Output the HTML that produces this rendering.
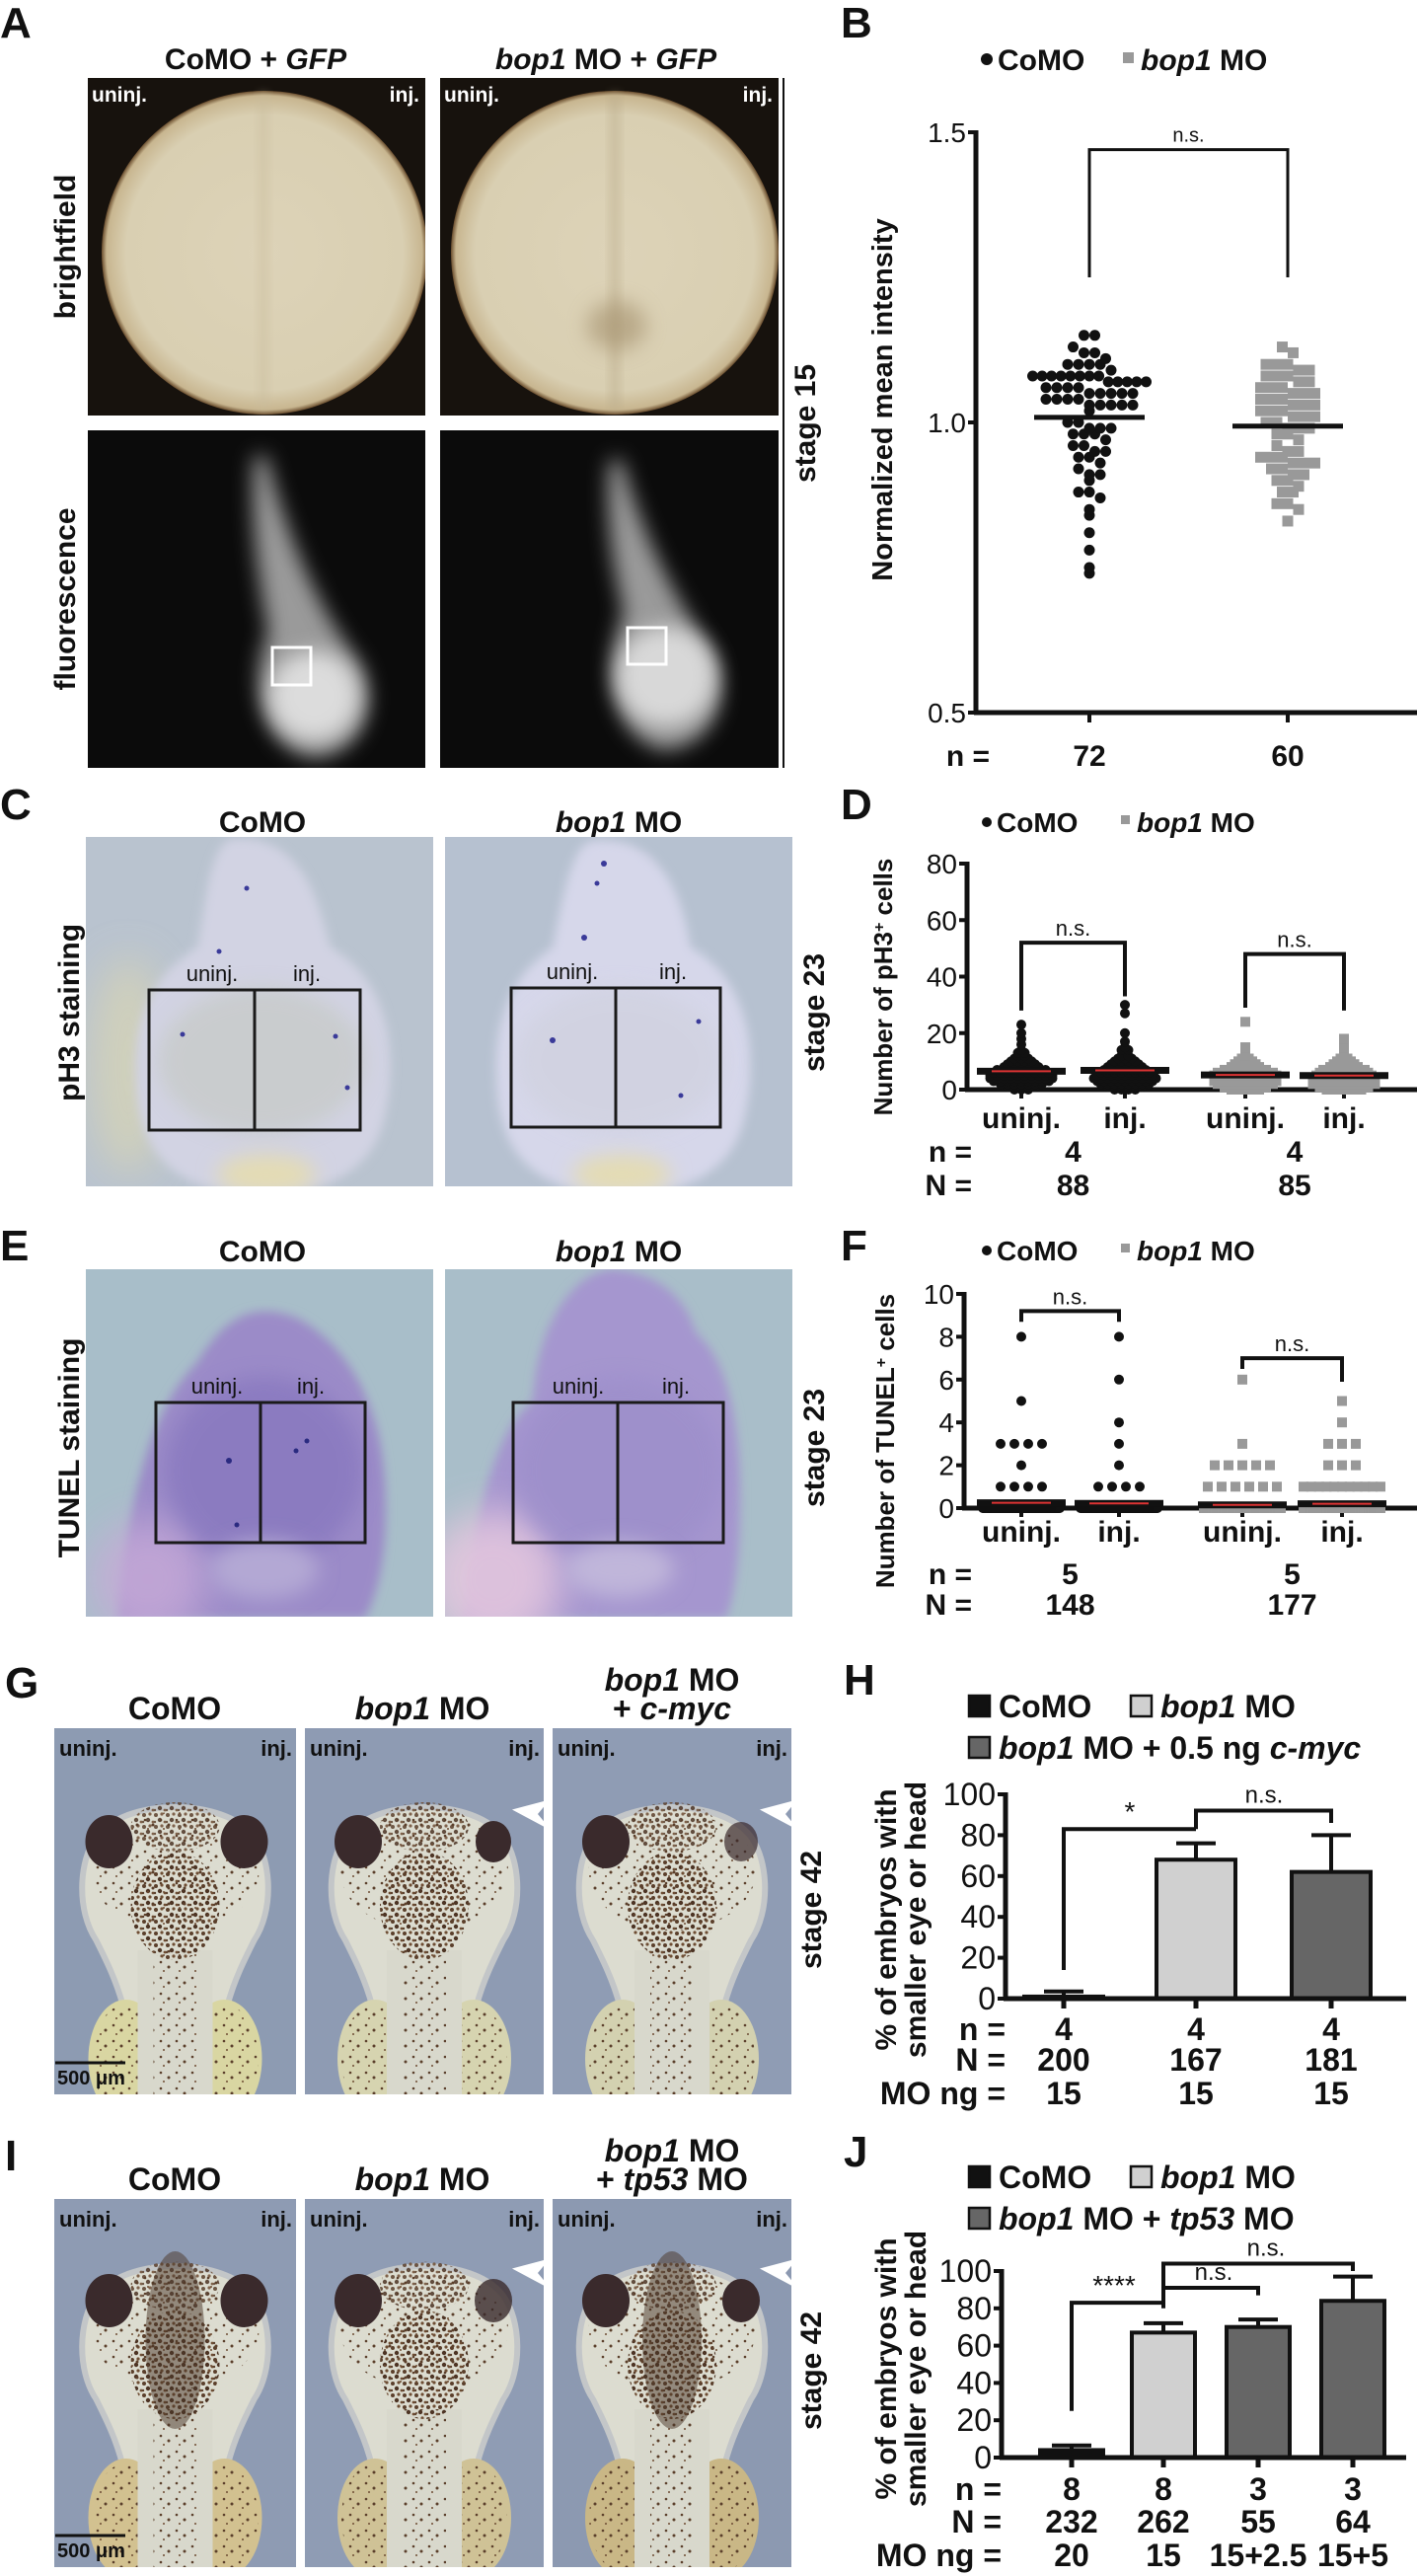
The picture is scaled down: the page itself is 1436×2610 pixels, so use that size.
<!DOCTYPE html>
<html><head><meta charset="utf-8"><title>bop1 figure</title>
<style>
html,body{margin:0;padding:0;background:#fff;}
svg{display:block;}
text{font-family:"Liberation Sans",sans-serif;fill:#111;}
.cond{font-family:"Liberation Sans Narrow","Liberation Sans",sans-serif;}
.b{font-weight:bold;}
</style></head>
<body>
<svg id="fig" xmlns="http://www.w3.org/2000/svg" width="1436" height="2610" viewBox="0 0 1436 2610">
<defs>
<radialGradient id="bfg" cx="50%" cy="50%" r="50%">
<stop offset="0" stop-color="#ddd3b8"/><stop offset="0.85" stop-color="#d9cfb2"/><stop offset="0.97" stop-color="#c8b690"/><stop offset="1" stop-color="#6b4e2e"/>
</radialGradient>
<filter id="bl10" x="-50%" y="-50%" width="200%" height="200%"><feGaussianBlur stdDeviation="10"/></filter>
<filter id="bl5" x="-50%" y="-50%" width="200%" height="200%"><feGaussianBlur stdDeviation="5"/></filter>
<filter id="bl20" x="-50%" y="-50%" width="200%" height="200%"><feGaussianBlur stdDeviation="20"/></filter>
<pattern id="speck" width="12" height="12" patternUnits="userSpaceOnUse">
<circle cx="2" cy="3" r="2" fill="#5b3f2b"/><circle cx="8" cy="2" r="1.6" fill="#6e4d33"/><circle cx="6" cy="8" r="2.2" fill="#4d3424"/><circle cx="11" cy="10" r="1.4" fill="#6e4d33"/><circle cx="1" cy="10" r="1.2" fill="#5b3f2b"/>
</pattern>
<pattern id="speck2" width="16" height="16" patternUnits="userSpaceOnUse">
<circle cx="3" cy="4" r="1.3" fill="#5b3f2b"/><circle cx="11" cy="9" r="1.5" fill="#5b3f2b"/><circle cx="6" cy="13" r="1" fill="#6e4d33"/>
</pattern>
<clipPath id="cA1"><rect x="89" y="79" width="342" height="342"/></clipPath>
<clipPath id="cA2"><rect x="446" y="79" width="343" height="342"/></clipPath>
<clipPath id="cA3"><rect x="89" y="436" width="342" height="342"/></clipPath>
<clipPath id="cA4"><rect x="446" y="436" width="343" height="342"/></clipPath>
<clipPath id="cC1"><rect x="87" y="848" width="352" height="354"/></clipPath>
<clipPath id="cC2"><rect x="451" y="848" width="352" height="354"/></clipPath>
<clipPath id="cE1"><rect x="87" y="1286" width="352" height="352"/></clipPath>
<clipPath id="cE2"><rect x="451" y="1286" width="352" height="352"/></clipPath>
<clipPath id="cG1"><rect x="55" y="1751" width="245" height="371"/></clipPath>
<clipPath id="cG2"><rect x="309" y="1751" width="242" height="371"/></clipPath>
<clipPath id="cG3"><rect x="560" y="1751" width="242" height="371"/></clipPath>
<clipPath id="cI1"><rect x="55" y="2228" width="245" height="373"/></clipPath>
<clipPath id="cI2"><rect x="309" y="2228" width="242" height="373"/></clipPath>
<clipPath id="cI3"><rect x="560" y="2228" width="242" height="373"/></clipPath>
</defs>

<!-- ============ PANEL A ============ -->
<g>
<text x="0" y="38" font-size="44" class="cond b">A</text>
<text x="259" y="70" font-size="30" class="cond b" text-anchor="middle">CoMO + <tspan font-style="italic">GFP</tspan></text>
<text x="614" y="70" font-size="30" class="cond b" text-anchor="middle"><tspan font-style="italic">bop1</tspan> MO + <tspan font-style="italic">GFP</tspan></text>
<g clip-path="url(#cA1)">
<rect x="89" y="79" width="342" height="342" fill="#17120d"/>
<ellipse cx="268" cy="256" rx="165" ry="164" fill="url(#bfg)"/>
<rect x="262" y="95" width="10" height="320" fill="#c9bc9c" opacity="0.5" filter="url(#bl5)"/>
</g>
<g clip-path="url(#cA2)">
<rect x="446" y="79" width="343" height="342" fill="#17120d"/>
<ellipse cx="623" cy="256" rx="166" ry="164" fill="url(#bfg)"/>
<rect x="618" y="95" width="10" height="320" fill="#b8a988" opacity="0.5" filter="url(#bl5)"/>
<ellipse cx="625" cy="330" rx="30" ry="25" fill="#a38f6c" opacity="0.6" filter="url(#bl10)"/>
</g>
<g clip-path="url(#cA3)">
<rect x="89" y="436" width="342" height="342" fill="#0b0b0b"/>
<path d="M258 462 C252 520 262 590 272 640 C248 700 270 760 318 768 C368 765 388 710 362 668 C325 620 292 550 270 462 Z" fill="#9a9a9a" filter="url(#bl10)"/>
<ellipse cx="318" cy="705" rx="45" ry="45" fill="#dcdcdc" filter="url(#bl10)"/>
<rect x="276" y="656" width="39" height="38" fill="none" stroke="#fff" stroke-width="3"/>
</g>
<g clip-path="url(#cA4)">
<rect x="446" y="436" width="343" height="342" fill="#0b0b0b"/>
<path d="M618 466 C612 520 622 580 632 620 C605 690 628 750 672 760 C725 758 745 700 718 655 C680 600 650 540 630 466 Z" fill="#9a9a9a" filter="url(#bl10)"/>
<ellipse cx="675" cy="685" rx="50" ry="50" fill="#d8d8d8" filter="url(#bl10)"/>
<rect x="636" y="636" width="39" height="37" fill="none" stroke="#fff" stroke-width="3"/>
</g>
<text x="93" y="103" font-size="21" class="cond b" fill="#fff" style="fill:#fff">uninj.</text>
<text x="425" y="103" font-size="21" class="cond b" text-anchor="end" style="fill:#fff">inj.</text>
<text x="450" y="103" font-size="21" class="cond b" style="fill:#fff">uninj.</text>
<text x="783" y="103" font-size="21" class="cond b" text-anchor="end" style="fill:#fff">inj.</text>
<line x1="794" y1="79" x2="794" y2="778" stroke="#111" stroke-width="2"/>
<text transform="translate(76,250) rotate(-90)" font-size="30" class="b" text-anchor="middle">brightfield</text>
<text transform="translate(76,607) rotate(-90)" font-size="30" class="b" text-anchor="middle">fluorescence</text>
<text transform="translate(826,429) rotate(-90)" font-size="30" class="b" text-anchor="middle">stage 15</text>
</g>

<!-- ============ PANEL C ============ -->
<g>
<text x="0" y="830" font-size="44" class="cond b">C</text>
<text x="266" y="843" font-size="30" class="cond b" text-anchor="middle">CoMO</text>
<text x="627" y="843" font-size="30" class="cond b" text-anchor="middle"><tspan font-style="italic">bop1</tspan> MO</text>
<g clip-path="url(#cC1)">
<rect x="87" y="848" width="352" height="354" fill="#b9c3cf"/>
<ellipse cx="130" cy="1080" rx="40" ry="110" fill="#d9d5b4" opacity="0.7" filter="url(#bl20)"/>
<path d="M235 850 C300 845 320 900 335 960 C390 990 405 1060 390 1130 C380 1180 340 1210 265 1210 C190 1210 150 1180 140 1120 C130 1040 150 990 200 960 C210 900 215 855 235 850 Z" fill="#d2d3e3" filter="url(#bl5)"/>
<ellipse cx="265" cy="1075" rx="105" ry="75" fill="#c7cbc9" opacity="0.8" filter="url(#bl10)"/>
<ellipse cx="270" cy="1190" rx="50" ry="20" fill="#e4dcb4" filter="url(#bl10)"/>
<circle cx="222" cy="964" r="2.5" fill="#3a3a99"/><circle cx="250" cy="900" r="2.5" fill="#3a3a99"/><circle cx="185" cy="1048" r="2.5" fill="#3a3a99"/><circle cx="340" cy="1050" r="2.5" fill="#3a3a99"/><circle cx="352" cy="1102" r="2.5" fill="#3a3a99"/>
</g>
<g clip-path="url(#cC2)">
<rect x="451" y="848" width="352" height="354" fill="#b6c1d0"/>
<path d="M600 852 C665 845 690 900 700 960 C755 990 770 1060 755 1130 C745 1180 705 1210 630 1210 C555 1210 515 1180 505 1120 C495 1040 515 990 560 960 C572 900 580 856 600 852 Z" fill="#d6d7ea" filter="url(#bl5)"/>
<ellipse cx="628" cy="1075" rx="105" ry="75" fill="#d0d2e0" opacity="0.8" filter="url(#bl10)"/>
<ellipse cx="630" cy="1190" rx="50" ry="20" fill="#e4dcb4" filter="url(#bl10)"/>
<circle cx="612" cy="875" r="3" fill="#3a3a99"/><circle cx="605" cy="895" r="2.5" fill="#3a3a99"/><circle cx="592" cy="950" r="3" fill="#3a3a99"/><circle cx="560" cy="1054" r="3" fill="#3a3a99"/><circle cx="708" cy="1035" r="2.5" fill="#3a3a99"/><circle cx="690" cy="1110" r="2.5" fill="#3a3a99"/>
</g>
<g fill="none" stroke="#1a1a1a" stroke-width="3">
<rect x="151" y="1003" width="214" height="142"/><line x1="258" y1="1003" x2="258" y2="1145"/>
<rect x="518" y="1001" width="212" height="141"/><line x1="624" y1="1001" x2="624" y2="1142"/>
</g>
<text x="215" y="994" font-size="22" class="cond" text-anchor="middle">uninj.</text>
<text x="311" y="994" font-size="22" class="cond" text-anchor="middle">inj.</text>
<text x="580" y="992" font-size="22" class="cond" text-anchor="middle">uninj.</text>
<text x="682" y="992" font-size="22" class="cond" text-anchor="middle">inj.</text>
<text transform="translate(80,1026) rotate(-90)" font-size="30" class="b" text-anchor="middle">pH3 staining</text>
<text transform="translate(835,1026) rotate(-90)" font-size="30" class="b" text-anchor="middle">stage 23</text>
</g>

<!-- ============ PANEL E ============ -->
<g>
<text x="0" y="1277" font-size="44" class="cond b">E</text>
<text x="266" y="1278" font-size="30" class="cond b" text-anchor="middle">CoMO</text>
<text x="627" y="1278" font-size="30" class="cond b" text-anchor="middle"><tspan font-style="italic">bop1</tspan> MO</text>
<g clip-path="url(#cE1)">
<rect x="87" y="1286" width="352" height="352" fill="#a8bec9"/>
<path d="M120 1640 C130 1500 160 1420 200 1380 C230 1330 260 1320 300 1335 C350 1360 385 1420 390 1500 C395 1580 380 1620 370 1640 Z" fill="#9b8bc8" filter="url(#bl5)"/>
<ellipse cx="150" cy="1600" rx="60" ry="60" fill="#c8aad8" opacity="0.8" filter="url(#bl20)"/>
<ellipse cx="268" cy="1490" rx="100" ry="95" fill="#8878bf" opacity="0.8" filter="url(#bl10)"/>
<ellipse cx="268" cy="1590" rx="55" ry="30" fill="#b3a8d4" filter="url(#bl10)"/>
<circle cx="232" cy="1480" r="3" fill="#2a2a80"/><circle cx="300" cy="1470" r="2.5" fill="#2a2a80"/><circle cx="311" cy="1460" r="2.5" fill="#2a2a80"/><circle cx="240" cy="1545" r="2.5" fill="#2a2a80"/>
</g>
<g clip-path="url(#cE1)"></g>
<g clip-path="url(#cE2)">
<rect x="451" y="1286" width="352" height="352" fill="#a9bec9"/>
<path d="M470 1640 C480 1540 500 1450 540 1420 C545 1340 580 1290 620 1286 C680 1290 700 1330 705 1350 C740 1380 750 1450 750 1520 C750 1600 740 1630 735 1640 Z" fill="#a596cf" filter="url(#bl5)"/>
<ellipse cx="500" cy="1600" rx="70" ry="70" fill="#e3c6de" opacity="0.9" filter="url(#bl20)"/>
<ellipse cx="628" cy="1490" rx="105" ry="95" fill="#9d8fcb" opacity="0.8" filter="url(#bl10)"/>
<ellipse cx="628" cy="1590" rx="55" ry="28" fill="#c0b6da" filter="url(#bl10)"/>
</g>
<g fill="none" stroke="#1a1a1a" stroke-width="3">
<rect x="158" y="1421" width="212" height="142"/><line x1="264" y1="1421" x2="264" y2="1563"/>
<rect x="520" y="1421" width="213" height="142"/><line x1="626" y1="1421" x2="626" y2="1563"/>
</g>
<text x="220" y="1412" font-size="22" class="cond" text-anchor="middle">uninj.</text>
<text x="315" y="1412" font-size="22" class="cond" text-anchor="middle">inj.</text>
<text x="586" y="1412" font-size="22" class="cond" text-anchor="middle">uninj.</text>
<text x="685" y="1412" font-size="22" class="cond" text-anchor="middle">inj.</text>
<text transform="translate(80,1467) rotate(-90)" font-size="30" class="b" text-anchor="middle">TUNEL staining</text>
<text transform="translate(835,1467) rotate(-90)" font-size="30" class="b" text-anchor="middle">stage 23</text>
</g>

<!-- ============ PANELS G / I (embryos drawn by script) ============ -->
<g id="photosGI">
<text x="5" y="1720" font-size="44" class="b">G</text>
<text x="177" y="1742" font-size="32" class="b" text-anchor="middle">CoMO</text>
<text x="428" y="1742" font-size="32" class="b" text-anchor="middle"><tspan font-style="italic">bop1</tspan> MO</text>
<text x="681" y="1713" font-size="32" class="b" text-anchor="middle"><tspan font-style="italic">bop1</tspan> MO</text>
<text x="681" y="1742" font-size="32" class="b" text-anchor="middle">+ <tspan font-style="italic">c-myc</tspan></text>
<text x="5" y="2199" font-size="44" class="b">I</text>
<text x="177" y="2219" font-size="32" class="b" text-anchor="middle">CoMO</text>
<text x="428" y="2219" font-size="32" class="b" text-anchor="middle"><tspan font-style="italic">bop1</tspan> MO</text>
<text x="681" y="2190" font-size="32" class="b" text-anchor="middle"><tspan font-style="italic">bop1</tspan> MO</text>
<text x="681" y="2219" font-size="32" class="b" text-anchor="middle">+ <tspan font-style="italic">tp53</tspan> MO</text>
<text transform="translate(832,1935) rotate(-90)" font-size="30" class="cond b" text-anchor="middle">stage 42</text>
<text transform="translate(832,2402) rotate(-90)" font-size="30" class="cond b" text-anchor="middle">stage 42</text>
</g>

<!-- ============ PANEL B / D / F / H / J chart text ============ -->
<g>
<text x="852" y="38" font-size="44" class="cond b">B</text>
<circle cx="1000" cy="60" r="6" fill="#111"/>
<text x="1011" y="71" font-size="30" class="cond b">CoMO</text>
<rect x="1138" y="53" width="11" height="11" fill="#999"/>
<text x="1156" y="71" font-size="30" class="cond b"><tspan font-style="italic">bop1</tspan> MO</text>
<text transform="translate(904,405) rotate(-90)" font-size="29" class="b" text-anchor="middle">Normalized mean intensity</text>
<text x="1003" y="776" font-size="30" class="cond b" text-anchor="end">n =</text>
</g>
<g>
<text x="852" y="830" font-size="44" class="cond b">D</text>
<circle cx="1000" cy="833" r="5" fill="#111"/>
<text x="1010" y="843" font-size="28" class="b">CoMO</text>
<rect x="1136" y="826" width="9" height="9" fill="#999"/>
<text x="1152" y="843" font-size="28" class="b"><tspan font-style="italic">bop1</tspan> MO</text>
<text transform="translate(904,1000) rotate(-90)" font-size="26" class="b" text-anchor="middle">Number of pH3<tspan baseline-shift="super" font-size="16">+</tspan> cells</text>
</g>
<g>
<text x="852" y="1277" font-size="44" class="cond b">F</text>
<circle cx="1000" cy="1267" r="5" fill="#111"/>
<text x="1010" y="1277" font-size="28" class="b">CoMO</text>
<rect x="1136" y="1260" width="9" height="9" fill="#999"/>
<text x="1152" y="1277" font-size="28" class="b"><tspan font-style="italic">bop1</tspan> MO</text>
<text transform="translate(906,1460) rotate(-90)" font-size="26" class="cond b" text-anchor="middle">Number of TUNEL<tspan baseline-shift="super" font-size="16">+</tspan> cells</text>
</g>
<g>
<text x="855" y="1717" font-size="44" class="b">H</text>
<text transform="translate(908,1945) rotate(-90)" font-size="30" class="b" text-anchor="middle">% of embryos with</text>
<text transform="translate(938,1945) rotate(-90)" font-size="30" class="b" text-anchor="middle">smaller eye or head</text>
</g>
<g>
<text x="855" y="2195" font-size="44" class="b">J</text>
<text transform="translate(908,2400) rotate(-90)" font-size="30" class="b" text-anchor="middle">% of embryos with</text>
<text transform="translate(938,2400) rotate(-90)" font-size="30" class="b" text-anchor="middle">smaller eye or head</text>
</g>
<g id="charts"></g>
</svg>

<script>
// ---------------- DATA ----------------
// Panel B (normalized mean intensity)
const bCategories = ['CoMO', 'bop1 MO'];
const bTickValues = [0.5, 1.0, 1.5];
const bTickLabels = ['0.5', '1.0', '1.5'];
const bNLabels = ['72', '60'];
const bCoMO = [1.15,1.15,1.13,1.12,1.12,1.11,1.10,1.10,1.10,1.10,1.09,1.08,1.08,1.08,1.08,1.08,1.08,1.08,1.08,1.07,1.07,1.07,1.07,1.07,1.06,1.06,1.06,1.06,1.05,1.05,1.05,1.05,1.05,1.04,1.04,1.04,1.04,1.03,1.03,1.03,1.03,1.03,1.02,1.00,1.00,0.99,0.99,0.99,0.98,0.98,0.98,0.97,0.96,0.96,0.95,0.95,0.94,0.94,0.93,0.92,0.91,0.91,0.90,0.88,0.88,0.87,0.85,0.84,0.81,0.78,0.75,0.74];
const bBop1 = [1.13,1.12,1.10,1.10,1.10,1.09,1.09,1.08,1.08,1.08,1.07,1.07,1.06,1.06,1.06,1.05,1.05,1.05,1.04,1.04,1.04,1.03,1.03,1.03,1.02,1.02,1.02,1.01,1.01,1.01,1.00,1.00,0.99,0.99,0.99,0.98,0.98,0.97,0.96,0.95,0.95,0.94,0.94,0.94,0.93,0.93,0.93,0.92,0.92,0.91,0.91,0.90,0.90,0.89,0.88,0.88,0.86,0.86,0.85,0.83];

// Panel D (pH3+ cells): counts per value
const dCategories = ['uninj.', 'inj.', 'uninj.', 'inj.'];
const dTickValues = [0, 20, 40, 60, 80];
const dValues = [0,1,2,3,4,5,6,7,8,9,10,11,12,13,14,15,16,17,18,20,23,24,27,30];
const dCountsCoMOUninj = [3,5,7,9,10,10,9,8,6,5,4,3,2,2,1,0,1,0,1,1,1,0,0,0];
const dCountsCoMOInj   = [4,6,8,9,10,9,8,7,6,5,4,3,2,0,2,1,0,1,0,1,0,0,1,1];
const dCountsBopUninj  = [5,7,9,10,10,10,9,7,5,4,3,2,1,1,0,1,0,0,0,0,0,1,0,0];
const dCountsBopInj    = [6,8,10,10,10,9,8,7,5,4,3,2,0,1,0,1,0,0,1,0,0,0,0,0];
const dMeans = [6.5, 6.8, 5.2, 5.0];
const dGroupN = ['4', '4'];
const dGroupBigN = ['88', '85'];

// Panel F (TUNEL+ cells): non-zero values and zero counts
const fCategories = ['uninj.', 'inj.', 'uninj.', 'inj.'];
const fTickValues = [0, 2, 4, 6, 8, 10];
const fCoMOUninj = [8,5,3,3,3,3,2,1,1,1,1];
const fCoMOInj = [8,6,4,3,2,1,1,1,1];
const fBopUninj = [6,3,2,2,2,2,2,1,1,1,1,1,1];
const fBopInj = [5,4,3,3,3,2,2,2,1,1,1,1,1,1,1,1,1,1,1];
const fZeroCounts = [136, 139, 164, 158];
const fMeans = [0.25, 0.22, 0.15, 0.2];
const fGroupN = ['5', '5'];
const fGroupBigN = ['148', '177'];

// Panel H (bar chart)
const hCategories = ['CoMO', 'bop1 MO', 'bop1 MO + 0.5 ng c-myc'];
const hMeans = [1, 68, 62];
const hErrors = [2.5, 8, 18];
const hN = ['4', '4', '4'];
const hBigN = ['200', '167', '181'];
const hMOng = ['15', '15', '15'];
const hTickValues = [0, 20, 40, 60, 80, 100];

// Panel J (bar chart)
const jCategories = ['CoMO', 'bop1 MO', 'bop1 MO + tp53 MO', 'bop1 MO + tp53 MO'];
const jMeans = [4, 67, 70, 84];
const jErrors = [2.5, 5, 4, 13];
const jN = ['8', '8', '3', '3'];
const jBigN = ['232', '262', '55', '64'];
const jMOng = ['20', '15', '15+2.5', '15+5'];
const jTickValues = [0, 20, 40, 60, 80, 100];

// ---------------- HELPERS ----------------
const NS = 'http://www.w3.org/2000/svg';
const root = document.getElementById('charts');
function mk(tag, attrs, parent) {
  const e = document.createElementNS(NS, tag);
  for (const k in attrs) e.setAttribute(k, attrs[k]);
  (parent || root).appendChild(e);
  return e;
}
function txt(str, attrs, parent) { const t = mk('text', attrs, parent); t.textContent = str; return t; }
function expand(values, counts) { const out = []; values.forEach((v, i) => { for (let k = 0; k < counts[i]; k++) out.push(v); }); return out; }
function swarm(vals, bin, spacing, maxW) {
  const groups = {};
  vals.forEach(v => { const key = Math.round(v / bin); (groups[key] = groups[key] || []).push(v); });
  const pts = [];
  Object.keys(groups).forEach(k => {
    const g = groups[k]; const n = g.length;
    let sp = spacing; if (maxW && n > 1 && (n - 1) * sp > maxW) sp = maxW / (n - 1);
    g.forEach((v, i) => pts.push({ v: v, off: (i - (n - 1) / 2) * sp }));
  });
  return pts;
}
function mean(a) { return a.reduce((s, x) => s + x, 0) / a.length; }

// ---------------- PANEL B ----------------
(function () {
  const g = mk('g', {});
  
  
  const x0 = 989, yTop = 134, yBot = 722;
  const y = v => yBot - (v - 0.5) / 1.0 * (yBot - yTop);
  const xs = [1104, 1305];
  const ax = mk('line', { x1: x0, y1: yTop - 2, x2: x0, y2: yBot + 2, stroke: '#111', 'stroke-width': 5 }, g);
  
  const xa = mk('line', { x1: x0 - 2, y1: yBot, x2: 1436, y2: yBot, stroke: '#111', 'stroke-width': 5 }, g);
  
  bTickValues.forEach((v, i) => {
    mk('line', { x1: x0 - 8, y1: y(v), x2: x0, y2: y(v), stroke: '#111', 'stroke-width': 4 }, g);
    const t = txt(bTickLabels[i], { x: x0 - 10, y: y(v) + 10, 'font-size': 28, class: 'cond', 'text-anchor': 'end' }, g);
    
  });
  xs.forEach((x, i) => {
    mk('line', { x1: x, y1: yBot, x2: x, y2: yBot + 10, stroke: '#111', 'stroke-width': 4 }, g);
    const t = txt(bNLabels[i], { x: x, y: 776, 'font-size': 30, class: 'cond b', 'text-anchor': 'middle' }, g);
    
  });
  const series = [bCoMO, bBop1];
  series.forEach((vals, si) => {
    swarm(vals, 0.02, 11, 115).forEach(p => {
      let m;
      if (si === 0) m = mk('circle', { cx: xs[si] + p.off, cy: y(p.v), r: 5.5, fill: '#111' }, g);
      else m = mk('rect', { x: xs[si] + p.off - 5.5, y: y(p.v) - 5.5, width: 11, height: 11, fill: '#999' }, g);
      
    });
    const mv = mean(vals);
    const ml = mk('line', { x1: xs[si] - 56, y1: y(mv), x2: xs[si] + 56, y2: y(mv), stroke: '#111', 'stroke-width': 5 }, g);
    
  });
  const br = mk('path', { d: `M${xs[0]} ${y(1.25)} V${y(1.47)} H${xs[1]} V${y(1.25)}`, fill: 'none', stroke: '#111', 'stroke-width': 3 }, g);
  
  const ns = txt('n.s.', { x: (xs[0] + xs[1]) / 2, y: y(1.47) - 8, 'font-size': 20, 'text-anchor': 'middle', class: 'cond' }, g);
  
})();

// ---------------- DOT PLOT helper (D, F) ----------------
function dotPlot(cfg) {
  const g = mk('g', {});
  
  
  const { x0, yTop, yBot, vmax, xs } = cfg;
  const y = v => yBot - v / vmax * (yBot - yTop);
  const ax = mk('line', { x1: x0, y1: yTop - 2, x2: x0, y2: yBot + 2, stroke: '#111', 'stroke-width': 5 }, g);
  
  const xa = mk('line', { x1: x0 - 2, y1: yBot, x2: 1436, y2: yBot, stroke: '#111', 'stroke-width': 5 }, g);
  
  cfg.ticks.forEach(v => {
    mk('line', { x1: x0 - 8, y1: y(v), x2: x0, y2: y(v), stroke: '#111', 'stroke-width': 4 }, g);
    const t = txt(String(v), { x: x0 - 10, y: y(v) + 10, 'font-size': 28, class: 'cond', 'text-anchor': 'end' }, g);
    
  });
  xs.forEach((x, i) => {
    mk('line', { x1: x, y1: yBot, x2: x, y2: yBot + 9, stroke: '#111', 'stroke-width': 4 }, g);
    const t = txt(cfg.cats[i], { x: x, y: cfg.catY, 'font-size': 30, class: 'b', 'text-anchor': 'middle' }, g);
    
  });
  cfg.series.forEach((vals, si) => {
    const gray = si >= 2;
    swarm(vals, cfg.bin, cfg.spacing, cfg.maxW).forEach(p => {
      let m;
      if (!gray) m = mk('circle', { cx: xs[si] + p.off, cy: y(p.v), r: cfg.r, fill: '#111' }, g);
      else m = mk('rect', { x: xs[si] + p.off - cfg.r, y: y(p.v) - cfg.r, width: cfg.r * 2, height: cfg.r * 2, fill: '#999' }, g);
      
    });
    const mv = cfg.means[si];
    const band = mk('line', { x1: xs[si] - 45, y1: y(mv), x2: xs[si] + 45, y2: y(mv), stroke: '#111', 'stroke-width': 7 }, g);
    
    const red = mk('line', { x1: xs[si] - 30, y1: y(mv), x2: xs[si] + 30, y2: y(mv), stroke: '#d33', 'stroke-width': 2 }, g);
    
  });
  cfg.brackets.forEach(b => {
    const p = mk('path', { d: `M${xs[b.a]} ${y(b.la)} V${y(b.h)} H${xs[b.b]} V${y(b.lb)}`, fill: 'none', stroke: '#111', 'stroke-width': 4 }, g);
    
    const t = txt('n.s.', { x: (xs[b.a] + xs[b.b]) / 2, y: y(b.h) - 7, 'font-size': 22, class: 'cond', 'text-anchor': 'middle' }, g);
    
  });
  const nl = txt('n =', { x: cfg.nX, y: cfg.nY, 'font-size': 30, class: 'b', 'text-anchor': 'end' }, g);
  
  const Nl = txt('N =', { x: cfg.nX, y: cfg.NY, 'font-size': 30, class: 'b', 'text-anchor': 'end' }, g);
  
  [0, 1].forEach(k => {
    const cx = (xs[2 * k] + xs[2 * k + 1]) / 2;
    const a = txt(cfg.groupN[k], { x: cx, y: cfg.nY, 'font-size': 30, class: 'b', 'text-anchor': 'middle' }, g);
    
    const b = txt(cfg.groupBigN[k], { x: cx, y: cfg.NY, 'font-size': 30, class: 'b', 'text-anchor': 'middle' }, g);
    
  });
}
dotPlot({
  name: 'chart-d', x0: 980, yTop: 875, yBot: 1104, vmax: 80, xs: [1035, 1140, 1262, 1362],
  ticks: dTickValues, cats: dCategories, catY: 1143,
  series: [expand(dValues, dCountsCoMOUninj), expand(dValues, dCountsCoMOInj), expand(dValues, dCountsBopUninj), expand(dValues, dCountsBopInj)],
  means: dMeans, bin: 1, spacing: 7, maxW: 70, r: 5,
  brackets: [{ a: 0, b: 1, h: 52, la: 28, lb: 33 }, { a: 2, b: 3, h: 48, la: 29, lb: 28 }],
  nX: 985, nY: 1177, NY: 1211, groupN: dGroupN, groupBigN: dGroupBigN
});
function withZeros(vals, z) { const a = vals.slice(); for (let i = 0; i < z; i++) a.push(0); return a; }
dotPlot({
  name: 'chart-f', x0: 977, yTop: 1311, yBot: 1528, vmax: 10, xs: [1035, 1134, 1259, 1360],
  ticks: fTickValues, cats: fCategories, catY: 1562,
  series: [withZeros(fCoMOUninj, fZeroCounts[0]), withZeros(fCoMOInj, fZeroCounts[1]), withZeros(fBopUninj, fZeroCounts[2]), withZeros(fBopInj, fZeroCounts[3])],
  means: fMeans, bin: 1, spacing: 14, maxW: 78, r: 5,
  brackets: [{ a: 0, b: 1, h: 9.2, la: 8.7, lb: 8.7 }, { a: 2, b: 3, h: 7.0, la: 6.5, lb: 5.9 }],
  nX: 985, nY: 1605, NY: 1636, groupN: fGroupN, groupBigN: fGroupBigN
});

// ---------------- BAR CHART helper (H, J) ----------------
const barFills = ['#111', '#d0d0d0', '#666', '#666'];
function barChart(cfg) {
  const g = mk('g', {});
  
  
  const { x0, yTop, yBot, xs, bw } = cfg;
  const y = v => yBot - v / 100 * (yBot - yTop);
  const ax = mk('line', { x1: x0, y1: yTop - 2, x2: x0, y2: yBot + 2, stroke: '#111', 'stroke-width': 5 }, g);
  
  cfg.ticks.forEach(v => {
    mk('line', { x1: x0 - 8, y1: y(v), x2: x0, y2: y(v), stroke: '#111', 'stroke-width': 4 }, g);
    const t = txt(String(v), { x: x0 - 10, y: y(v) + 11, 'font-size': 32, class: 'cond', 'text-anchor': 'end' }, g);
    
  });
  cfg.means.forEach((m, i) => {
    const x = xs[i];
    const eb = mk('path', { d: `M${x} ${y(m)} V${y(m + cfg.err[i])} M${x - 20} ${y(m + cfg.err[i])} H${x + 20}`, stroke: '#111', 'stroke-width': 4, fill: 'none' }, g);
    
    const r = mk('rect', { x: x - bw / 2, y: y(m), width: bw, height: yBot - y(m), fill: barFills[i], stroke: '#111', 'stroke-width': 4 }, g);
    
    mk('line', { x1: x, y1: yBot, x2: x, y2: yBot + 10, stroke: '#111', 'stroke-width': 5 }, g);
    const a = txt(cfg.n[i], { x: x, y: cfg.rows[0], 'font-size': 32, class: 'b', 'text-anchor': 'middle' }, g);
    
    const b = txt(cfg.bigN[i], { x: x, y: cfg.rows[1], 'font-size': 32, class: 'b', 'text-anchor': 'middle' }, g);
    
    const c = txt(cfg.mo[i], { x: x, y: cfg.rows[2], 'font-size': 32, class: 'b', 'text-anchor': 'middle' }, g);
    
  });
  const xa = mk('line', { x1: x0 - 2, y1: yBot, x2: cfg.xEnd, y2: yBot, stroke: '#111', 'stroke-width': 5 }, g);
  
  ['n =', 'N =', 'MO ng ='].forEach((s, k) => {
    const t = txt(s, { x: x0, y: cfg.rows[k], 'font-size': 32, class: 'b', 'text-anchor': 'end' }, g);
    
  });
  cfg.brackets.forEach(b => {
    const p = mk('path', { d: `M${xs[b.a]} ${y(b.la)} V${y(b.h)} H${xs[b.b]} V${y(b.lb)}`, fill: 'none', stroke: '#111', 'stroke-width': 4 }, g);
    
    const t = txt(b.label, { x: b.tx, y: y(b.h) - 8, 'font-size': b.label === 'n.s.' ? 24 : 28, class: 'cond', 'text-anchor': 'middle' }, g);
    
  });
  // legend
  const lg = mk('g', {}, g);
  
  
  cfg.legend.forEach(L => {
    const sq = mk('rect', { x: L.x, y: L.y - 22, width: 21, height: 21, fill: barFills[L.c], stroke: '#111', 'stroke-width': 2.5 }, lg);
    
    const t = mk('text', { x: L.x + 30, y: L.y, 'font-size': 32, class: 'b' }, lg);
    
    t.innerHTML = L.html;
  });
}
barChart({
  name: 'chart-h', x0: 1019, yTop: 1818, yBot: 2025, xs: [1078, 1212, 1349], bw: 80, xEnd: 1425,
  means: hMeans, err: hErrors, n: hN, bigN: hBigN, mo: hMOng, ticks: hTickValues,
  rows: [2067, 2098, 2132],
  brackets: [
    { a: 0, b: 1, h: 83, la: 14, lb: 83, label: '*', tx: 1145 },
    { a: 1, b: 2, h: 92, la: 83, lb: 86, label: 'n.s.', tx: 1281 }
  ],
  legend: [
    { x: 982, y: 1740, c: 0, html: 'CoMO' },
    { x: 1146, y: 1740, c: 1, html: '<tspan font-style="italic">bop1</tspan> MO' },
    { x: 982, y: 1782, c: 2, html: '<tspan font-style="italic">bop1</tspan> MO + 0.5 ng <tspan font-style="italic">c-myc</tspan>' }
  ]
});
barChart({
  name: 'chart-j', x0: 1015, yTop: 2301, yBot: 2490, xs: [1086, 1179, 1275, 1371], bw: 64, xEnd: 1425,
  means: jMeans, err: jErrors, n: jN, bigN: jBigN, mo: jMOng, ticks: jTickValues,
  rows: [2533, 2566, 2600],
  brackets: [
    { a: 0, b: 1, h: 83, la: 25, lb: 80, label: '****', tx: 1129 },
    { a: 1, b: 2, h: 91, la: 83, lb: 87, label: 'n.s.', tx: 1230 },
    { a: 1, b: 3, h: 104, la: 91, lb: 100, label: 'n.s.', tx: 1283 }
  ],
  legend: [
    { x: 982, y: 2217, c: 0, html: 'CoMO' },
    { x: 1146, y: 2217, c: 1, html: '<tspan font-style="italic">bop1</tspan> MO' },
    { x: 982, y: 2259, c: 2, html: '<tspan font-style="italic">bop1</tspan> MO + <tspan font-style="italic">tp53</tspan> MO' }
  ]
});

// ---------------- EMBRYO PHOTOS (G, I) ----------------
const photos = document.getElementById('photosGI');
function embryo(clip, x, yTop, w, h, bg, opts) {
  const g = mk('g', { 'clip-path': 'url(#' + clip + ')' }, photos);
  
  
  mk('rect', { x: x, y: yTop, width: w, height: h, fill: bg }, g);
  const cx = x + w / 2, hy = yTop + opts.head;
  // body
  mk('path', { d: `M${cx - 45} ${yTop + h + 5} C${cx - 40} ${hy + 180} ${cx - 60} ${hy + 140} ${cx - 80} ${hy + 100} C${cx - 100} ${hy + 70} ${cx - 98} ${hy + 20} ${cx - 80} ${hy - 5} C${cx - 50} ${hy - 45} ${cx + 50} ${hy - 45} ${cx + 80} ${hy - 5} C${cx + 98} ${hy + 20} ${cx + 100} ${hy + 70} ${cx + 80} ${hy + 100} C${cx + 60} ${hy + 140} ${cx + 40} ${hy + 180} ${cx + 45} ${yTop + h + 5} Z`, fill: '#dcdcd0', stroke: '#c3c6c8', 'stroke-width': 6 }, g);
  // yolk
  mk('ellipse', { cx: cx - 50, cy: hy + 220, rx: 38, ry: 60, fill: opts.yolk }, g);
  mk('ellipse', { cx: cx + 50, cy: hy + 220, rx: 38, ry: 60, fill: opts.yolk }, g);
  mk('ellipse', { cx: cx - 50, cy: hy + 220, rx: 34, ry: 55, fill: 'url(#speck2)' }, g);
  mk('ellipse', { cx: cx + 50, cy: hy + 220, rx: 34, ry: 55, fill: 'url(#speck2)' }, g);
  mk('rect', { x: cx - 38, y: hy + 110, width: 76, height: yTop + h - hy - 100, fill: '#d8d8cc' }, g);
  mk('rect', { x: cx - 22, y: hy + 110, width: 44, height: yTop + h - hy - 100, fill: 'url(#speck2)' }, g);
  // pigment
  mk('ellipse', { cx: cx, cy: hy - 15, rx: 45, ry: 25, fill: 'url(#speck)', opacity: 0.85 }, g);
  mk('ellipse', { cx: cx, cy: hy + 65, rx: 45, ry: 55, fill: 'url(#speck)' }, g);
  mk('ellipse', { cx: cx, cy: hy + 30, rx: 85, ry: 60, fill: 'url(#speck2)' }, g);
  if (opts.dark) mk('ellipse', { cx: cx, cy: hy + 40, rx: 30, ry: 90, fill: '#4a3628', opacity: 0.5 }, g);
  // eyes
  mk('ellipse', { cx: cx - 67, cy: hy, rx: 24, ry: 27, fill: '#3a2a2c' }, g);
  mk('ellipse', { cx: cx + 70, cy: hy, rx: opts.rEye, ry: opts.rEye + 3, fill: '#3a2a2c', opacity: opts.eyeOp }, g);
  // labels
  const u = txt('uninj.', { x: x + 5, y: yTop + 28, 'font-size': 22, class: 'b' }, g);
  
  const j = txt('inj.', { x: x + w - 4, y: yTop + 28, 'font-size': 22, class: 'b', 'text-anchor': 'end' }, g);
  
  if (opts.arrow) {
    const ax = cx + 93, ay = hy - 32;
    const a = mk('path', { d: `M${ax} ${ay} l30 -8 l-10 12 l10 12 Z M${ax + 20} ${ay + 2} l18 -18`, fill: '#fff', stroke: '#fff', 'stroke-width': 3 }, g);
    
  }
  if (opts.scale) {
    mk('line', { x1: x + 1, y1: yTop + h - 32, x2: x + 72, y2: yTop + h - 32, stroke: '#111', 'stroke-width': 3 }, g);
    const s = txt('500 μm', { x: x + 3, y: yTop + h - 10, 'font-size': 20, class: 'b' }, g);
    
  }
}
embryo('cG1', 55, 1751, 245, 371, '#8d9bb2', { head: 115, yolk: '#d9d6a2', rEye: 24, eyeOp: 1, scale: true });
embryo('cG2', 309, 1751, 242, 371, '#8e9bb3', { head: 115, yolk: '#d6d4b0', rEye: 18, eyeOp: 1, arrow: true });
embryo('cG3', 560, 1751, 242, 371, '#8f9cb4', { head: 115, yolk: '#d3d1b0', rEye: 17, eyeOp: 0.7, arrow: true });
embryo('cI1', 55, 2228, 245, 373, '#8e9bb3', { head: 103, yolk: '#d2c190', rEye: 24, eyeOp: 1, scale: true, dark: true });
embryo('cI2', 309, 2228, 242, 373, '#8f9cb4', { head: 103, yolk: '#cfc296', rEye: 19, eyeOp: 0.8, arrow: true });
embryo('cI3', 560, 2228, 242, 373, '#8c99b1', { head: 103, yolk: '#c9b786', rEye: 19, eyeOp: 1, arrow: true, dark: true });
</script>
</body></html>
